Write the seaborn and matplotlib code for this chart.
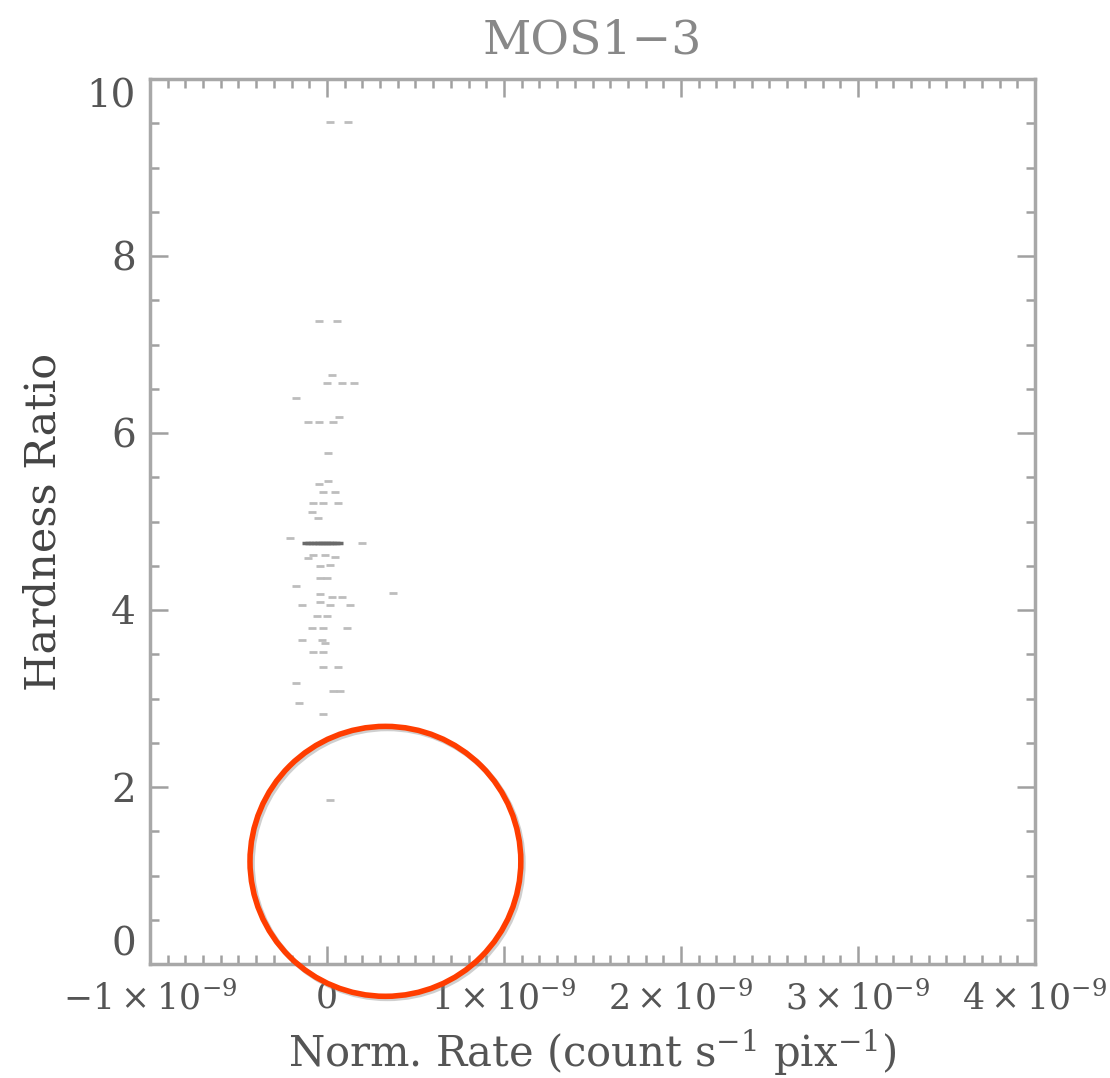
import matplotlib
matplotlib.use("Agg")
import matplotlib.pyplot as plt
import matplotlib.patches as mpatches
import matplotlib.patheffects as pe
import numpy as np
import pandas as pd
import seaborn as sns

# ---- data (rate in units of 1e-9 count s^-1 pix^-1) ----
rate_e9 = [0.017, 0.119, -0.045, 0.056, 0.028, 0.000, 0.085, 0.153, -0.175,
           -0.107, -0.045, 0.034, 0.068, 0.006, -0.045, 0.006, -0.023, 0.045,
           -0.079, -0.023, 0.062, -0.085, -0.051, -0.209, 0.198,
           -0.107, -0.079, -0.011, 0.045, -0.040, 0.017, -0.040, 0.000,
           -0.175, -0.040, 0.028, 0.085, 0.373, -0.141, -0.040, 0.017, 0.130,
           -0.056, 0.000, -0.085, -0.023, 0.113, -0.141, -0.028, -0.011,
           -0.079, -0.023, -0.023, 0.062, -0.175, 0.034, 0.073, -0.158,
           -0.023, 0.017]
hardness = [9.51, 9.51, 7.27, 7.27, 6.66, 6.56, 6.56, 6.56, 6.40,
            6.12, 6.12, 6.12, 6.18, 5.77, 5.42, 5.46, 5.33, 5.33,
            5.21, 5.21, 5.21, 5.11, 5.04, 4.81, 4.76,
            4.59, 4.62, 4.62, 4.60, 4.50, 4.51, 4.36, 4.36,
            4.27, 4.18, 4.15, 4.15, 4.19, 4.06, 4.09, 4.06, 4.06,
            3.93, 3.93, 3.80, 3.80, 3.80, 3.66, 3.66, 3.63,
            3.53, 3.53, 3.36, 3.36, 3.18, 3.08, 3.08, 2.95,
            2.82, 1.85]

# dense cluster forming the dark horizontal streak
streak_rate_e9 = [-0.12, -0.10, -0.08, -0.06, -0.045, -0.03, -0.015, 0.0,
                  0.015, 0.03, 0.05, 0.07]
streak_hardness = [4.76] * len(streak_rate_e9)

x_ticks_e9 = [-1, 0, 1, 2, 3, 4]
x_tick_labels = [r"$-1\times10^{-9}$", "0", r"$1\times10^{-9}$",
                 r"$2\times10^{-9}$", r"$3\times10^{-9}$", r"$4\times10^{-9}$"]
y_ticks = [0, 2, 4, 6, 8, 10]

# highlight circle (data coordinates, units of 1e-9 for x)
circle_center_e9 = (0.33, 1.16)
circle_width_e9 = 1.53
circle_height = 3.05

# ---- style ----
sns.set_style("ticks")
plt.rcParams["font.family"] = ["DejaVu Serif"]
plt.rcParams["mathtext.fontset"] = "dejavuserif"

df = pd.DataFrame({"rate": np.array(rate_e9) * 1e-9, "hr": hardness})
df_streak = pd.DataFrame({"rate": np.array(streak_rate_e9) * 1e-9, "hr": streak_hardness})

fig = plt.figure(figsize=(11.10, 10.78), dpi=100)
ax = fig.add_axes([150 / 1110, 1 - 964 / 1078, 885 / 1110, 885 / 1078])

sns.scatterplot(data=df, x="rate", y="hr", ax=ax, marker="_", s=30,
                linewidth=2.0, color="#bdbdbd", legend=False)
sns.scatterplot(data=df_streak, x="rate", y="hr", ax=ax, marker="_", s=40,
                linewidth=2.5, color="#6a6a6a", legend=False)

ax.set_xlim(-1e-9, 4e-9)
ax.set_ylim(0, 10)

ax.set_xticks(np.array(x_ticks_e9) * 1e-9)
ax.set_xticklabels(x_tick_labels)
ax.set_yticks(y_ticks)
ax.set_xticks(np.arange(-1, 4.01, 0.1) * 1e-9, minor=True)
ax.set_yticks(np.arange(0, 10.01, 0.5), minor=True)

for s in ax.spines.values():
    s.set_visible(True)
    s.set_color("#a8a8a8")
    s.set_linewidth(2.5)

ax.tick_params(which="both", direction="in", top=True, right=True,
               color="#a0a0a0", width=1.8)
ax.tick_params(which="major", length=13, labelcolor="#555555")
ax.tick_params(axis="x", which="major", labelsize=25, pad=12)
ax.tick_params(axis="y", which="major", labelsize=28, pad=10)
ax.tick_params(which="minor", length=6.5)

# IDL-style: keep end labels inside the axis range
ylabels = ax.get_yticklabels()
ylabels[0].set_verticalalignment("bottom")
ylabels[-1].set_verticalalignment("top")

ax.set_xlabel(r"Norm. Rate (count s$^{-1}$ pix$^{-1}$)", fontsize=30,
              color="#555555", labelpad=8)
ax.set_ylabel("Hardness Ratio", fontsize=31, color="#444444", labelpad=16)
ax.set_title("MOS1\u22123", fontsize=34, color="#888888", pad=18)

ell = mpatches.Ellipse((circle_center_e9[0] * 1e-9, circle_center_e9[1]),
                       circle_width_e9 * 1e-9, circle_height,
                       fill=False, edgecolor="#ff3d00", linewidth=4,
                       clip_on=False, zorder=10)
ell.set_path_effects([pe.SimpleLineShadow(offset=(1.5, -1.5), shadow_color="#888888", alpha=0.4),
                      pe.Normal()])
ax.add_patch(ell)

fig.savefig("out.png", dpi=100)
